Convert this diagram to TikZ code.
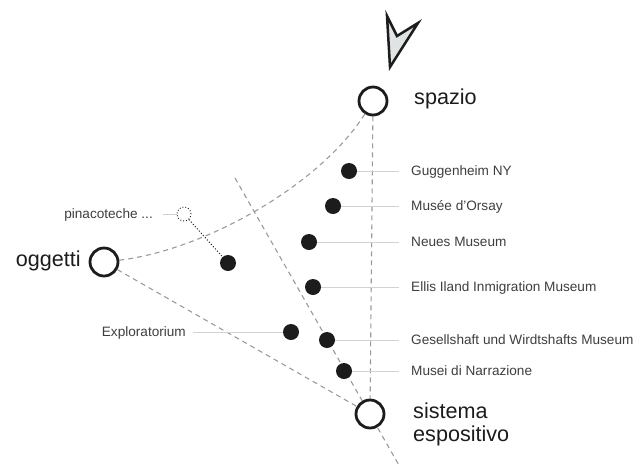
\documentclass[tikz,border=0pt]{standalone}
\usepackage{fontspec}
\setmainfont{Liberation Sans}
\usetikzlibrary{positioning,backgrounds}

\definecolor{ink}{HTML}{1C1C1C}
\definecolor{axisgray}{HTML}{9A9A9A}
\definecolor{leadgray}{HTML}{D2D2D2}
\definecolor{cursorfill}{HTML}{DFE3E3}

\begin{document}
\begin{tikzpicture}[
    x=1pt, y=-1pt,
    station/.style={circle, draw=ink, fill=white, line width=2.8pt,
      minimum size=28pt, inner sep=0pt},
    work/.style={circle, fill=ink, minimum size=16pt, inner sep=0pt},
    ghost/.style={circle, draw=ink, dotted, line width=0.9pt, fill=white,
      minimum size=14pt, inner sep=0pt},
    axis/.style={draw=axisgray, line width=1.1pt, dash pattern=on 5pt off 4pt},
    leader/.style={draw=leadgray, line width=0.8pt},
    big/.style={font=\fontsize{21.6}{23}\selectfont, text=ink, inner sep=0pt},
    lbl/.style={font=\fontsize{13.6}{15}\selectfont, text=ink!85, inner sep=0pt}
  ]
  \useasboundingbox (0,0) rectangle (634,467);

  % the three poles
  \node[station] (spazio) at (373,101) {};
  \node[station] (oggetti) at (104,262) {};
  \node[station] (sistema) at (370,414) {};

  \node[big, anchor=mid west] (spazioL) at (414,102) {spazio};
  \node[big, anchor=mid east] (oggettiL) at (81,264) {oggetti};
  \node[big, anchor=west, align=left] (sistemaL) at (413,424) {sistema\\espositivo};

  % axes
  \coordinate (d1) at (235,178);
  \coordinate (d2) at (400,467);
  \begin{scope}[on background layer]
    \draw[axis] (d1) -- (d2);
    \draw[axis] (spazio) -- (sistema);
    \draw[axis] (oggetti) .. controls (205,250) and (320,185) .. (spazio);
    \draw[axis] (oggetti) -- (sistema);
  \end{scope}

  % cursor
  \draw[ink, fill=cursorfill, line width=2.5pt, line join=miter]
    (387,16) -- (397,36) -- (418,23) -- (390,67) -- cycle;

  % museums
  \node[work] (gug) at (349,171) {};
  \node[work] (orsay) at (333,206) {};
  \node[work] (neues) at (309,242) {};
  \node[work] (ellis) at (313,287) {};
  \node[work] (gesell) at (327,340) {};
  \node[work] (narr) at (344,371) {};
  \node[work] (explo) at (291,332) {};
  \node[work] (pina) at (228,263) {};
  \node[ghost] (pinaG) at (184,214) {};

  \node[lbl, anchor=mid west] (gugL) at (411,173) {Guggenheim NY};
  \node[lbl, anchor=mid west] (orsayL) at (411,208) {Musée d’Orsay};
  \node[lbl, anchor=mid west] (neuesL) at (411,244) {Neues Museum};
  \node[lbl, anchor=mid west] (ellisL) at (411,289) {Ellis Iland Inmigration Museum};
  \node[lbl, anchor=mid west] (gesellL) at (411,342) {Gesellshaft und Wirdtshafts Museum};
  \node[lbl, anchor=mid west] (narrL) at (411,373) {Musei di Narrazione};
  \node[lbl, anchor=mid east] (exploL) at (186,334) {Exploratorium};
  \node[lbl, anchor=mid east] (pinaL) at (153,216) {pinacoteche ...};

  \draw[leader] (gug) -- ([xshift=-12pt]gug -| gugL.west);
  \draw[leader] (orsay) -- ([xshift=-12pt]orsay -| orsayL.west);
  \draw[leader] (neues) -- ([xshift=-12pt]neues -| neuesL.west);
  \draw[leader] (ellis) -- ([xshift=-12pt]ellis -| ellisL.west);
  \draw[leader] (gesell) -- ([xshift=-12pt]gesell -| gesellL.west);
  \draw[leader] (narr) -- ([xshift=-12pt]narr -| narrL.west);
  \draw[leader] (explo) -- ([xshift=7pt]explo -| exploL.east);
  \draw[leader] (pinaG) -- ([xshift=10pt]pinaG -| pinaL.east);
  \draw[ink, dotted, line width=1pt] (pinaG) -- (pina);
\end{tikzpicture}
\end{document}
